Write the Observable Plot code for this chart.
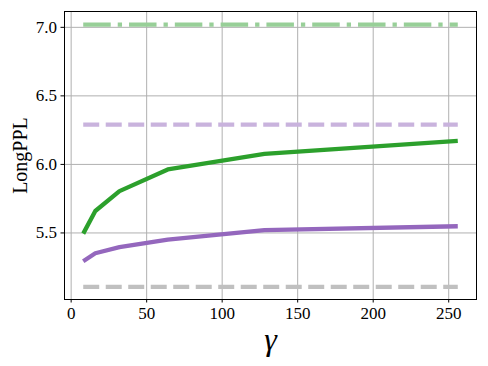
<!DOCTYPE html>
<html>
<head>
<meta charset="utf-8">
<script src="https://cdn.jsdelivr.net/npm/d3@7"></script>
<script src="https://cdn.jsdelivr.net/npm/@observablehq/plot@0.6"></script>
<style>
  html, body { margin: 0; padding: 0; background: #fff; }
</style>
</head>
<body>
<div id="chart"></div>
<script>
// Data
const gammas = [8, 16, 32, 64, 128, 256];
const greenSeries = [5.495, 5.66, 5.805, 5.963, 6.077, 6.172];
const purpleSeries = [5.293, 5.352, 5.397, 5.452, 5.52, 5.549];
const baselineSpan = [8, 256];
const greenBaseline = 7.02;   // dash-dot, light green
const purpleBaseline = 6.29;  // dashed, light purple
const grayBaseline = 5.106;   // dashed, gray
const xTicks = [0, 50, 100, 150, 200, 250];
const yTicks = [5.5, 6.0, 6.5, 7.0];

const green = gammas.map((g, i) => ({x: g, y: greenSeries[i]}));
const purple = gammas.map((g, i) => ({x: g, y: purpleSeries[i]}));
const hline = (v) => baselineSpan.map(x => ({x, y: v}));

const font = "Liberation Serif";

const chart = Plot.plot({
  width: 488,
  height: 366,
  marginLeft: 64,
  marginRight: 12,
  marginTop: 11,
  marginBottom: 67,
  style: {fontFamily: font, background: "#fff", color: "#000", fontSize: "17px"},
  x: {domain: [-4.4, 268.4], ticks: xTicks},
  y: {domain: [5.0145, 7.1155], ticks: yTicks},
  marks: [
    Plot.gridX(xTicks, {stroke: "#b0b0b0", strokeOpacity: 1, strokeWidth: 1}),
    Plot.gridY(yTicks, {stroke: "#b0b0b0", strokeOpacity: 1, strokeWidth: 1}),
    Plot.line(hline(greenBaseline), {x: "x", y: "y", stroke: "#98cf98", strokeWidth: 4.3, strokeDasharray: "27.5,7,4.3,7", strokeLinecap: "butt"}),
    Plot.line(hline(purpleBaseline), {x: "x", y: "y", stroke: "#c9b3dd", strokeWidth: 4.3, strokeDasharray: "16,6.5", strokeLinecap: "butt"}),
    Plot.line(hline(grayBaseline), {x: "x", y: "y", stroke: "#c0c0c0", strokeWidth: 4.3, strokeDasharray: "16,6.5", strokeLinecap: "butt"}),
    Plot.line(green, {x: "x", y: "y", stroke: "#2ca02c", strokeWidth: 4.3, strokeLinecap: "butt"}),
    Plot.line(purple, {x: "x", y: "y", stroke: "#9467bd", strokeWidth: 4.3, strokeLinecap: "butt"}),
    Plot.frame({stroke: "#000", strokeWidth: 1}),
    Plot.axisX(xTicks, {tickSize: 3.5, tickPadding: 4, fontSize: 17, fontFamily: font, label: null, tickFormat: d => String(d)}),
    Plot.axisY(yTicks, {tickSize: 3.5, tickPadding: 4, fontSize: 17, fontFamily: font, label: null, tickFormat: d => d.toFixed(1)}),
    Plot.text(["γ"], {frameAnchor: "bottom", dy: 50, fontSize: 32, fontFamily: font, fontStyle: "italic", fill: "#000", textAnchor: "middle"}),
    Plot.text(["LongPPL"], {frameAnchor: "left", dx: -44, rotate: -90, fontSize: 20, fontFamily: font, fill: "#000", textAnchor: "middle"})
  ]
});
document.getElementById("chart").appendChild(chart);
</script>
</body>
</html>
